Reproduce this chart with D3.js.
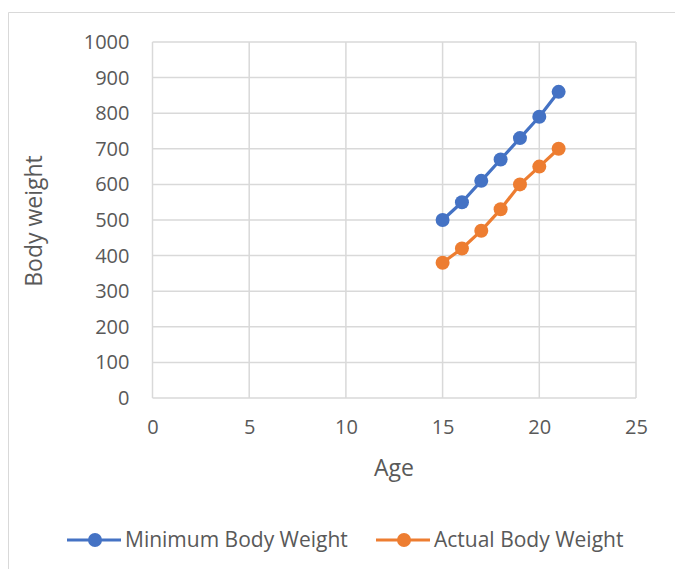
<!DOCTYPE html>
<html><head><meta charset="utf-8">
<script src="https://cdn.jsdelivr.net/npm/d3@7"></script>
<style>body{margin:0;background:#fff;}svg{display:block;font-family:"Open Sans",sans-serif;}</style>
</head><body><svg id="c" width="675" height="569"></svg>
<script>
const ages = [15,16,17,18,19,20,21];
const minimumWeight = [500,550,610,670,730,790,860];
const actualWeight = [380,420,470,530,600,650,700];
const xTicks = [0,5,10,15,20,25];
const yTicks = [0,100,200,300,400,500,600,700,800,900,1000];
const seriesNames = ["Minimum Body Weight","Actual Body Weight"];
const colors = ["#4472c4","#ed7d31"];
const FONT = "'Open Sans',sans-serif";

const svg = d3.select("#c");
svg.append("path").attr("d","M8.5,569 V12.5 H675").attr("fill","none").attr("stroke","#d9d9d9").attr("stroke-width",1);

const x = d3.scaleLinear().domain([0,25]).range([152.5,636]);
const y = d3.scaleLinear().domain([0,1000]).range([398,42]);
const tc = "#595959";

const g = svg.append("g");
g.selectAll(".gy").data(yTicks).join("line").attr("x1",x(0)).attr("x2",x(25)).attr("y1",d=>y(d)).attr("y2",d=>y(d)).attr("stroke","#d9d9d9").attr("stroke-width",1.5);
g.selectAll(".gx").data(xTicks).join("line").attr("y1",y(0)).attr("y2",y(1000)).attr("x1",d=>x(d)).attr("x2",d=>x(d)).attr("stroke","#d9d9d9").attr("stroke-width",1.5);

const yAxis = svg.append("g").attr("transform",`translate(${x(0)},0)`).call(d3.axisLeft(y).tickValues(yTicks).tickFormat(d3.format("d")).tickSize(0).tickPadding(23));
yAxis.select(".domain").remove();
yAxis.selectAll("text").attr("fill",tc).style("font-size","20px").style("font-family",FONT);
const xAxis = svg.append("g").attr("transform",`translate(0,${y(0)})`).call(d3.axisBottom(x).tickValues(xTicks).tickFormat(d3.format("d")).tickSize(0).tickPadding(22));
xAxis.select(".domain").remove();
xAxis.selectAll("text").attr("fill",tc).style("font-size","20px").style("font-family",FONT);

svg.append("text").attr("x",394).attr("y",476).attr("text-anchor","middle").attr("fill",tc).style("font-size","23px").text("Age");
svg.append("text").attr("transform","translate(42,221) rotate(-90)").attr("text-anchor","middle").attr("fill",tc).style("font-size","23px").text("Body weight");

const series = [minimumWeight, actualWeight];
const line = d3.line().x((d,i)=>x(ages[i])).y(d=>y(d));
series.forEach((s,k)=>{
  svg.append("path").datum(s).attr("d",line).attr("fill","none").attr("stroke",colors[k]).attr("stroke-width",3.2).attr("stroke-linejoin","round");
  svg.selectAll(".m"+k).data(s).join("circle").attr("cx",(d,i)=>x(ages[i])).attr("cy",d=>y(d)).attr("r",7).attr("fill",colors[k]);
});

const legX = [67,376];
seriesNames.forEach((n,k)=>{
  const lg = svg.append("g").attr("transform",`translate(${legX[k]},540)`);
  lg.append("line").attr("x1",0).attr("x2",54).attr("stroke",colors[k]).attr("stroke-width",3.2);
  lg.append("circle").attr("cx",28).attr("r",7).attr("fill",colors[k]);
  lg.append("text").attr("x",58).attr("dy","0.35em").attr("fill",tc).style("font-size","21px").text(n);
});
</script></body></html>
